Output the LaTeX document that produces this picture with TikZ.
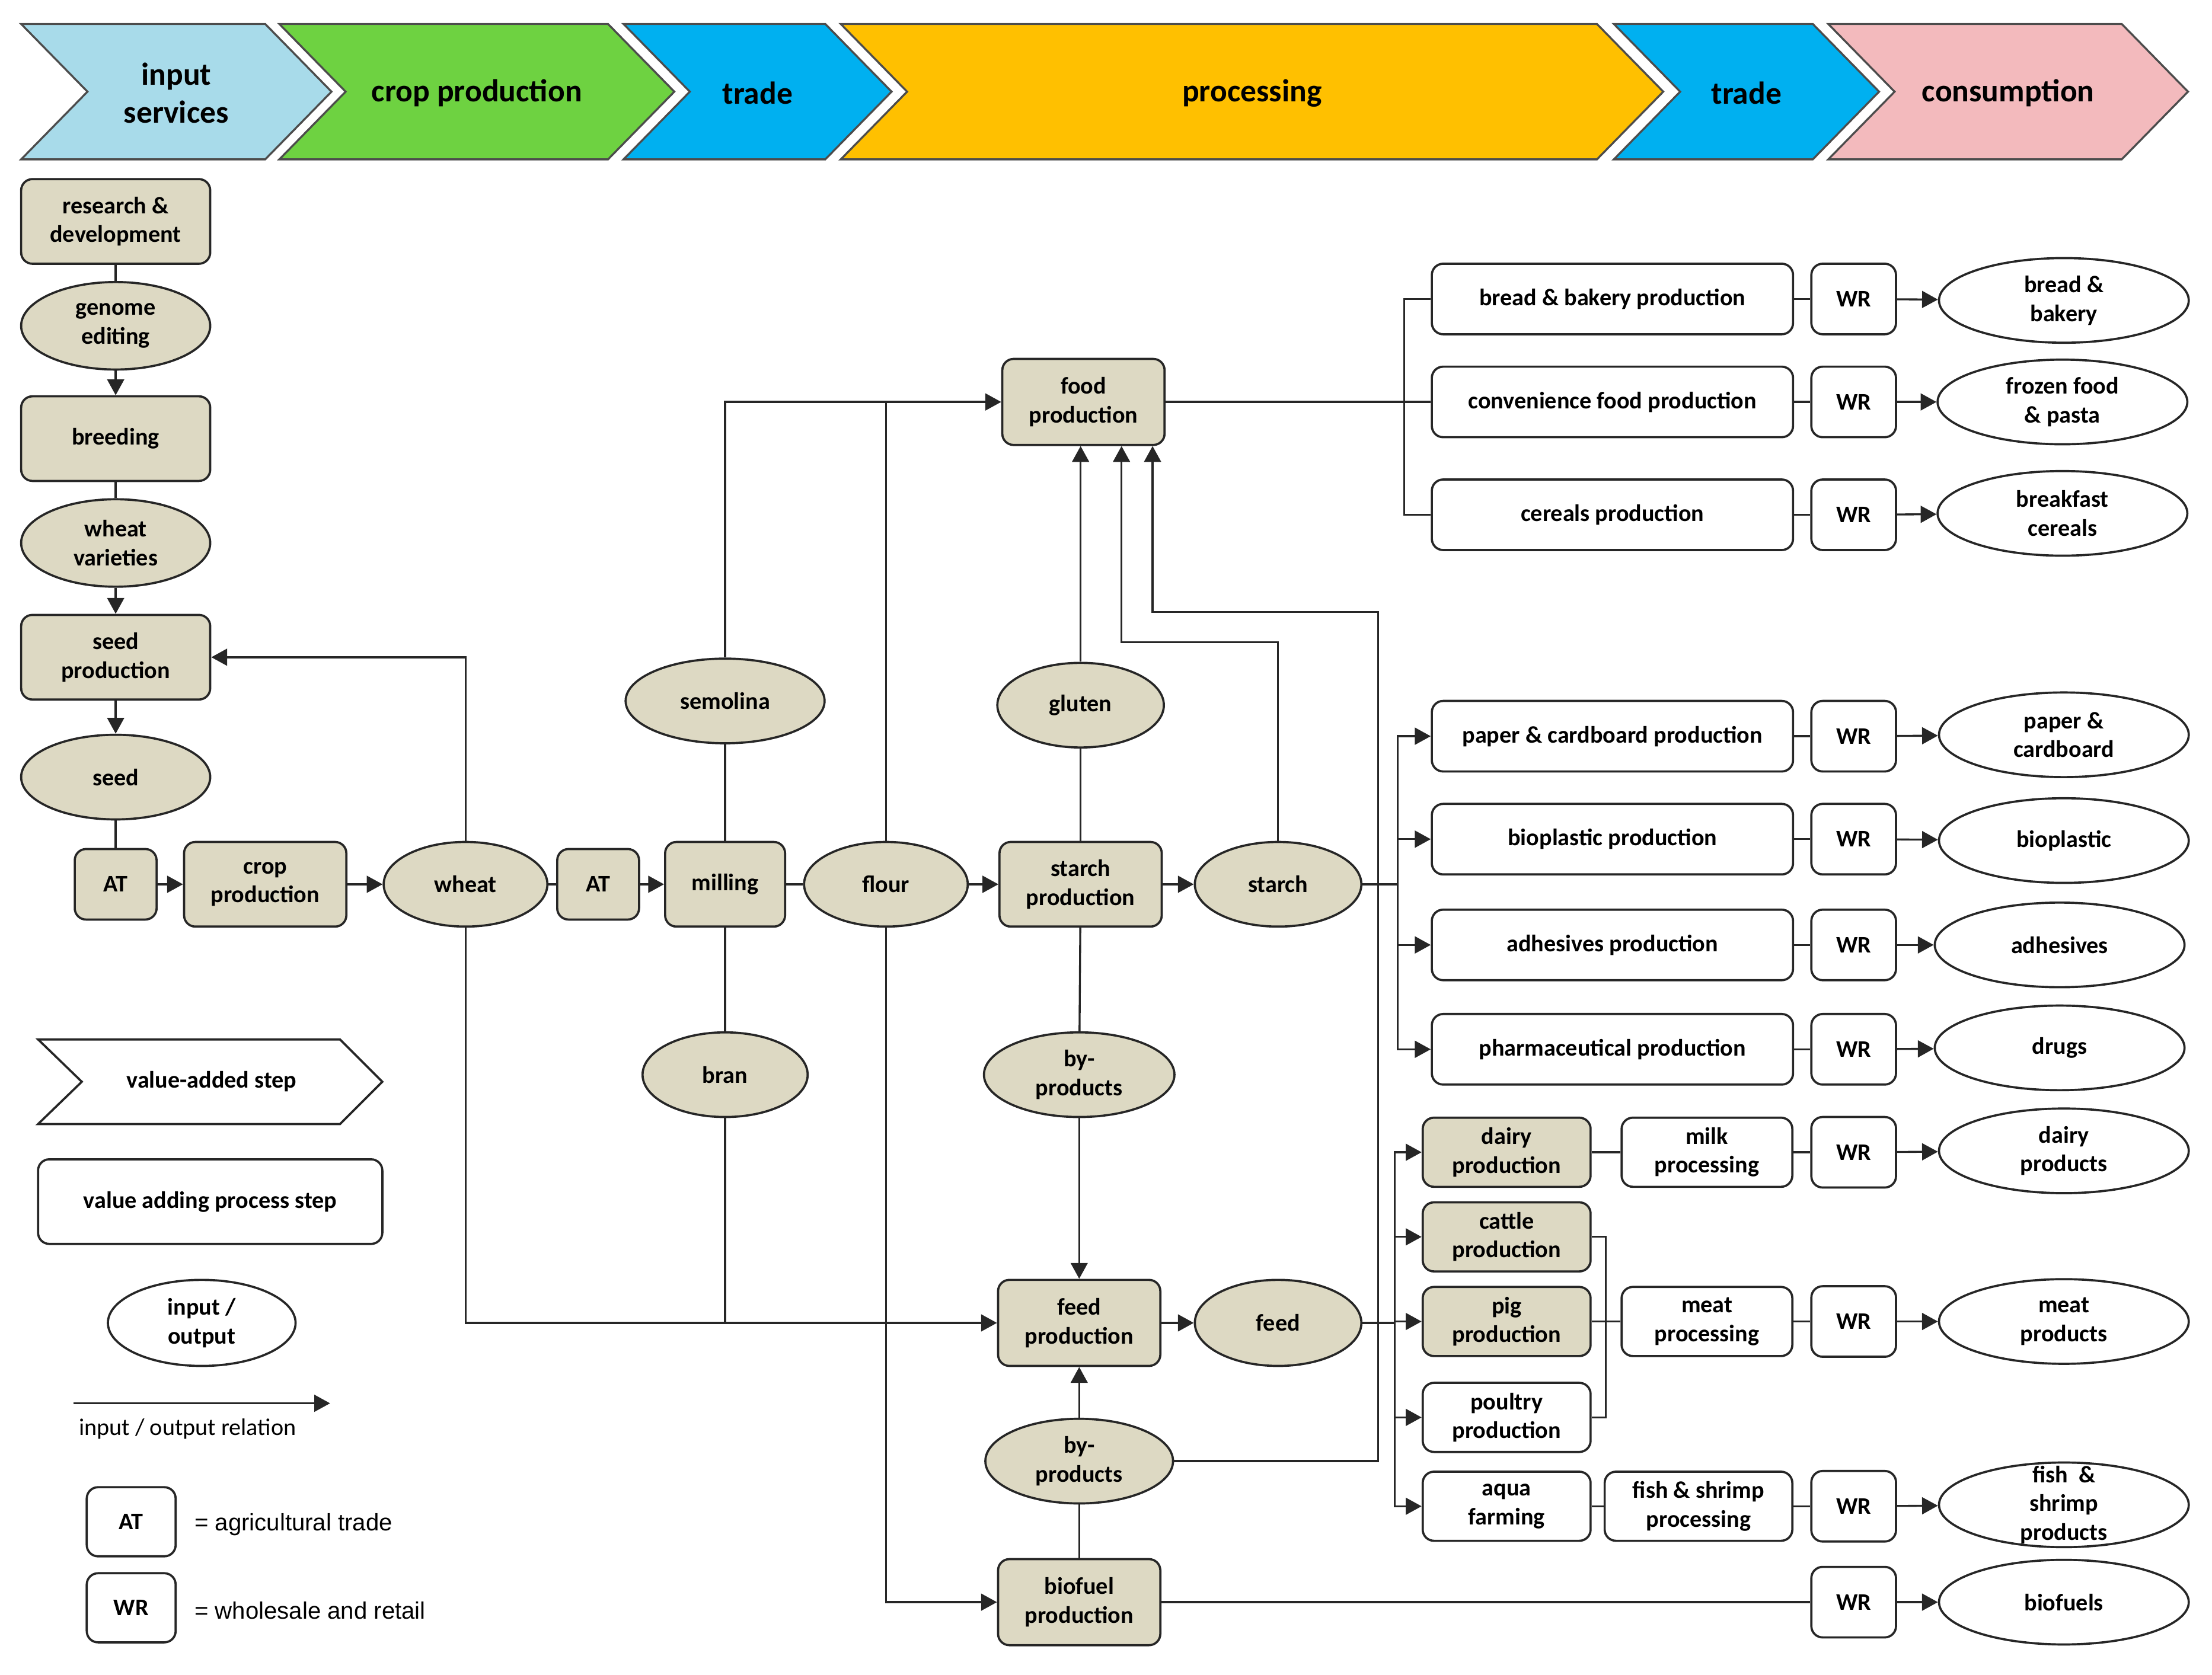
\documentclass[tikz,border=0pt]{standalone}
\usepackage{fontspec}
\setmainfont{Carlito}
\newfontfamily\arialfont{Liberation Sans}
\usetikzlibrary{arrows.meta,shapes.geometric}
\definecolor{inblue}{RGB}{168,219,234}
\definecolor{cropgreen}{RGB}{110,210,65}
\definecolor{tradeblue}{RGB}{0,176,240}
\definecolor{procgold}{RGB}{255,192,0}
\definecolor{conspink}{RGB}{243,186,189}
\definecolor{tan}{RGB}{221,217,195}
\newcommand{\boxfont}{\bfseries\fontsize{12}{14.5}\selectfont}
\newcommand{\chevfont}{\bfseries\fontsize{16}{19}\selectfont}
\tikzset{%
    >={Triangle[length=8pt,width=8.5pt]},
    proc/.style={rectangle,rounded corners=2mm,draw=black!85,line width=1.1pt,fill=tan,align=center,inner sep=1pt,font=\boxfont},
    wproc/.style={proc,fill=white},
    prod/.style={ellipse,draw=black!85,line width=1.1pt,fill=tan,align=center,inner sep=0pt,font=\boxfont},
    wprod/.style={prod,fill=white},
    sz/.style 2 args={minimum width=#1,minimum height=#2},
    link/.style={line width=1pt,draw=black!85},
    flow/.style={link,->},
    chev/.style={draw=black!70,line width=1pt},
    note/.style={font=\fontsize{12}{14.5}\selectfont}
}
\begin{document}
\begin{tikzpicture}[x=0.025cm,y=-0.025cm]
\useasboundingbox (0,0) rectangle (1568,1187.6);
%%%%% value chain header
\foreach \a/\b/\col/\txt [count=\i] in {15/188/inblue/{input\\services},198/431/cropgreen/{crop production},442/585/tradeblue/{trade},596/1132/procgold/{processing},1144/1285/tradeblue/{trade},1296/1504/conspink/{consumption}}{
    \filldraw[chev,fill=\col] (\a,17) -- (\b,17) -- (\b+47,65) -- (\b,113) -- (\a,113) -- (\a+47,65) -- cycle;
    \node[font=\chevfont,align=center] (chev\i) at ({(\a+\b)/2+23.5},66) {\txt};
}
%%%%% input services
\node[proc,sz={3.35cm}{1.5cm}] (rd) at (82,157) {research \&\\development};
\node[prod,sz={3.35cm}{1.55cm}] (genome) at (82,231) {genome\\editing};
\node[proc,sz={3.35cm}{1.5cm}] (breeding) at (82,311) {breeding};
\node[prod,sz={3.35cm}{1.55cm}] (varieties) at (82,385) {wheat\\varieties};
\node[proc,sz={3.35cm}{1.5cm}] (seedprod) at (82,466) {seed\\production};
\node[prod,sz={3.35cm}{1.5cm}] (seed) at (82,551) {seed};
%%%%% main chain
\node[proc,sz={1.45cm}{1.25cm}] (at1) at (82,627) {AT};
\node[proc,sz={2.875cm}{1.5cm}] (cropprod) at (188,627) {crop\\production};
\node[prod,sz={2.9cm}{1.5cm}] (wheat) at (330,627) {wheat};
\node[proc,sz={1.45cm}{1.25cm}] (at2) at (424,627) {AT};
\node[proc,sz={2.125cm}{1.5cm}] (milling) at (514,627) {milling};
\node[prod,sz={2.9cm}{1.5cm}] (flour) at (628,627) {flour};
\node[proc,sz={2.875cm}{1.5cm}] (starchprod) at (766,627) {starch\\production};
\node[prod,sz={2.95cm}{1.5cm}] (starch) at (906,627) {starch};
\node[prod,sz={3.525cm}{1.5cm}] (semolina) at (514,497) {semolina};
\node[prod,sz={2.925cm}{1.5cm}] (bran) at (514,762) {bran};
\node[prod,sz={2.95cm}{1.5cm}] (gluten) at (766,500) {gluten};
\node[proc,sz={2.875cm}{1.525cm}] (food) at (768,285) {food\\production};
\node[prod,sz={3.375cm}{1.5cm}] (byp1) at (765,762) {by-\\products};
\node[proc,sz={2.875cm}{1.525cm}] (feedprod) at (765,938) {feed\\production};
\node[prod,sz={2.95cm}{1.525cm}] (feed) at (906,938) {feed};
\node[prod,sz={3.325cm}{1.5cm}] (byp2) at (765,1036) {by-\\products};
\node[proc,sz={2.875cm}{1.525cm}] (biofuel) at (765,1136) {biofuel\\production};
%%%%% food branch
\node[wproc,sz={6.4cm}{1.25cm}] (bread) at (1143,212) {bread \& bakery production};
\node[wproc,sz={6.4cm}{1.25cm}] (conv) at (1143,285) {convenience food production};
\node[wproc,sz={6.4cm}{1.25cm}] (cereals) at (1143,365) {cereals production};
\node[wproc,sz={1.5cm}{1.25cm}] (wrbread) at (1314,212) {WR};
\node[wproc,sz={1.5cm}{1.25cm}] (wrconv) at (1314,285) {WR};
\node[wproc,sz={1.5cm}{1.25cm}] (wrcer) at (1314,365) {WR};
\node[wprod,sz={4.425cm}{1.5cm}] (breadbak) at (1463,213) {bread \&\\bakery};
\node[wprod,sz={4.425cm}{1.5cm}] (frozen) at (1462,285) {frozen food\\\& pasta};
\node[wprod,sz={4.425cm}{1.5cm}] (breakfast) at (1462,364) {breakfast\\cereals};
%%%%% starch branch
\node[wproc,sz={6.4cm}{1.25cm}] (paper) at (1143,522) {paper \& cardboard production};
\node[wproc,sz={6.4cm}{1.25cm}] (bioplast) at (1143,595) {bioplastic production};
\node[wproc,sz={6.4cm}{1.25cm}] (adhes) at (1143,670) {adhesives production};
\node[wproc,sz={6.4cm}{1.25cm}] (pharma) at (1143,744) {pharmaceutical production};
\node[wproc,sz={1.5cm}{1.25cm}] (wrpaper) at (1314,522) {WR};
\node[wproc,sz={1.5cm}{1.25cm}] (wrbio) at (1314,595) {WR};
\node[wproc,sz={1.5cm}{1.25cm}] (wradh) at (1314,670) {WR};
\node[wproc,sz={1.5cm}{1.25cm}] (wrpharma) at (1314,744) {WR};
\node[wprod,sz={4.425cm}{1.5cm}] (cardboard) at (1463,521) {paper \&\\cardboard};
\node[wprod,sz={4.425cm}{1.5cm}] (plastic) at (1463,596) {bioplastic};
\node[wprod,sz={4.425cm}{1.5cm}] (adhesive) at (1460,670) {adhesives};
\node[wprod,sz={4.425cm}{1.5cm}] (drugs) at (1460,743) {drugs};
%%%%% feed branch
\node[proc,sz={2.975cm}{1.225cm}] (dairy) at (1068,817) {dairy\\production};
\node[proc,sz={2.975cm}{1.225cm}] (cattle) at (1068,877) {cattle\\production};
\node[proc,sz={2.975cm}{1.225cm}] (pig) at (1068,937) {pig\\production};
\node[wproc,sz={2.975cm}{1.225cm}] (poultry) at (1068,1005) {poultry\\production};
\node[wproc,sz={2.975cm}{1.225cm}] (aqua) at (1068,1068) {aqua\\farming};
\node[wproc,sz={3.025cm}{1.225cm}] (milkproc) at (1210,817) {milk\\processing};
\node[wproc,sz={3.025cm}{1.225cm}] (meatproc) at (1210,937) {meat\\processing};
\node[wproc,sz={3.325cm}{1.225cm}] (fishproc) at (1204,1068) {fish \& shrimp\\processing};
\node[wproc,sz={1.5cm}{1.25cm}] (wrdairy) at (1314,817) {WR};
\node[wproc,sz={1.5cm}{1.25cm}] (wrmeat) at (1314,937) {WR};
\node[wproc,sz={1.5cm}{1.25cm}] (wrfish) at (1314,1068) {WR};
\node[wproc,sz={1.5cm}{1.25cm}] (wrfuel) at (1314,1136) {WR};
\node[wprod,sz={4.425cm}{1.5cm}] (dairyprod) at (1463,816) {dairy\\products};
\node[wprod,sz={4.425cm}{1.5cm}] (meatprod) at (1463,937) {meat\\products};
\node[wprod,sz={4.425cm}{1.5cm}] (fishprod) at (1463,1067) {};
\node[font=\boxfont,align=center] (fishtxt) at (fishprod) {fish \ \&\\shrimp\\products};
\node[wprod,sz={4.425cm}{1.5cm}] (fuels) at (1463,1136) {biofuels};
%%%%% legend
\filldraw[chev,fill=white,draw=black!85,line width=1.1pt] (27,737) -- (241,737) -- (271,767) -- (241,797) -- (27,797) -- (58,767) -- cycle;
\node[font=\boxfont] (vastep) at (150,767) {value-added step};
\node[wproc,sz={6.1cm}{1.5cm}] (vabox) at (149,852) {value adding process step};
\node[wprod,sz={3.325cm}{1.525cm}] (ioleg) at (143,938) {input /\\output};
\coordinate (lgA) at (52,995);
\coordinate (lgB) at (234,995);
\node[note] (iorel) at (133,1013) {input / output relation};
\node[wproc,sz={1.575cm}{1.225cm}] (atleg) at (93,1079) {AT};
\node[wproc,sz={1.575cm}{1.225cm}] (wrleg) at (93,1140) {WR};
\node[anchor=west,font=\arialfont\fontsize{12}{14.5}\selectfont] (attxt) at (133,1081) {= agricultural trade};
\node[anchor=west,font=\arialfont\fontsize{12}{14.5}\selectfont] (wrtxt) at (133,1142) {= wholesale and retail};
%%%%% connectors, input services
\draw[link] (rd) -- (genome);
\draw[flow] (genome) -- (breeding);
\draw[link] (breeding) -- (varieties);
\draw[flow] (varieties) -- (seedprod);
\draw[flow] (seedprod) -- (seed);
\draw[link] (seed) -- (at1);
\draw[flow] (at1) -- (cropprod);
\draw[flow] (cropprod) -- (wheat);
\draw[flow] (wheat.north) |- (seedprod.east);
%%%%% processing
\draw[link] (wheat) -- (at2);
\draw[flow] (at2) -- (milling);
\draw[link] (milling) -- (flour);
\draw[flow] (flour) -- (starchprod);
\draw[flow] (starchprod) -- (starch);
\draw[link] (milling) -- (semolina);
\draw[flow] (semolina.north) |- (food.west);
\draw[link] (flour.north) -- (flour.north |- food.west);
\draw[link] (starchprod) -- (gluten);
\draw[flow] (gluten.north) -- (gluten.north |- food.south);
\coordinate (fs1) at ([xshift=0.675cm]food.south);
\coordinate (fs2) at ([xshift=1.225cm]food.south);
\draw[flow] (starch.north) -- ++(0,-141) -| (fs1);
\draw[flow] (byp2.east) -- ++(144.5,0) -- ++(0,-602) -| (fs2);
\draw[link] (milling) -- (bran);
\draw[flow] (wheat.south) |- (feedprod.west);
\draw[link] (bran.south) -- (bran.south |- feedprod.west);
\draw[flow] (flour.south) |- (biofuel.west);
\draw[link] (starchprod) -- (byp1);
\draw[flow] (byp1) -- (feedprod);
\draw[link] (biofuel) -- (byp2);
\draw[flow] (byp2) -- (feedprod);
\draw[flow] (feedprod) -- (feed);
%%%%% branches
\draw[link] (food.east) -- ++(169,0) |- (bread.west);
\draw[link] (food.east) -- ++(169,0) |- (conv.west);
\draw[link] (food.east) -- ++(169,0) |- (cereals.west);
\draw[flow] (starch.east) -- ++(25,0) |- (paper.west);
\draw[flow] (starch.east) -- ++(25,0) |- (bioplast.west);
\draw[flow] (starch.east) -- ++(25,0) |- (adhes.west);
\draw[flow] (starch.east) -- ++(25,0) |- (pharma.west);
\draw[flow] (feed.east) -- ++(23,0) |- (dairy.west);
\draw[flow] (feed.east) -- ++(23,0) |- (cattle.west);
\draw[flow] (feed.east) -- ++(23,0) |- (pig.west);
\draw[flow] (feed.east) -- ++(23,0) |- (poultry.west);
\draw[flow] (feed.east) -- ++(23,0) |- (aqua.west);
%%%%% to consumption
\draw[link] (bread) -- (wrbread);
\draw[flow] (wrbread) -- (breadbak);
\draw[link] (conv) -- (wrconv);
\draw[flow] (wrconv) -- (frozen);
\draw[link] (cereals) -- (wrcer);
\draw[flow] (wrcer) -- (breakfast);
\draw[link] (paper) -- (wrpaper);
\draw[flow] (wrpaper) -- (cardboard);
\draw[link] (bioplast) -- (wrbio);
\draw[flow] (wrbio) -- (plastic);
\draw[link] (adhes) -- (wradh);
\draw[flow] (wradh) -- (adhesive);
\draw[link] (pharma) -- (wrpharma);
\draw[flow] (wrpharma) -- (drugs);
\draw[link] (dairy) -- (milkproc);
\draw[link] (milkproc) -- (wrdairy);
\draw[flow] (wrdairy) -- (dairyprod);
\draw[link] (cattle.east) -- ++(10,0) |- (poultry.east);
\draw[link] (pig) -- (meatproc);
\draw[link] (meatproc) -- (wrmeat);
\draw[flow] (wrmeat) -- (meatprod);
\draw[link] (aqua) -- (fishproc);
\draw[link] (fishproc) -- (wrfish);
\draw[flow] (wrfish) -- (fishprod);
\draw[link] (biofuel) -- (wrfuel);
\draw[flow] (wrfuel) -- (fuels);
%%%%% legend arrow
\draw[flow] (lgA) -- (lgB);
\end{tikzpicture}
\end{document}
